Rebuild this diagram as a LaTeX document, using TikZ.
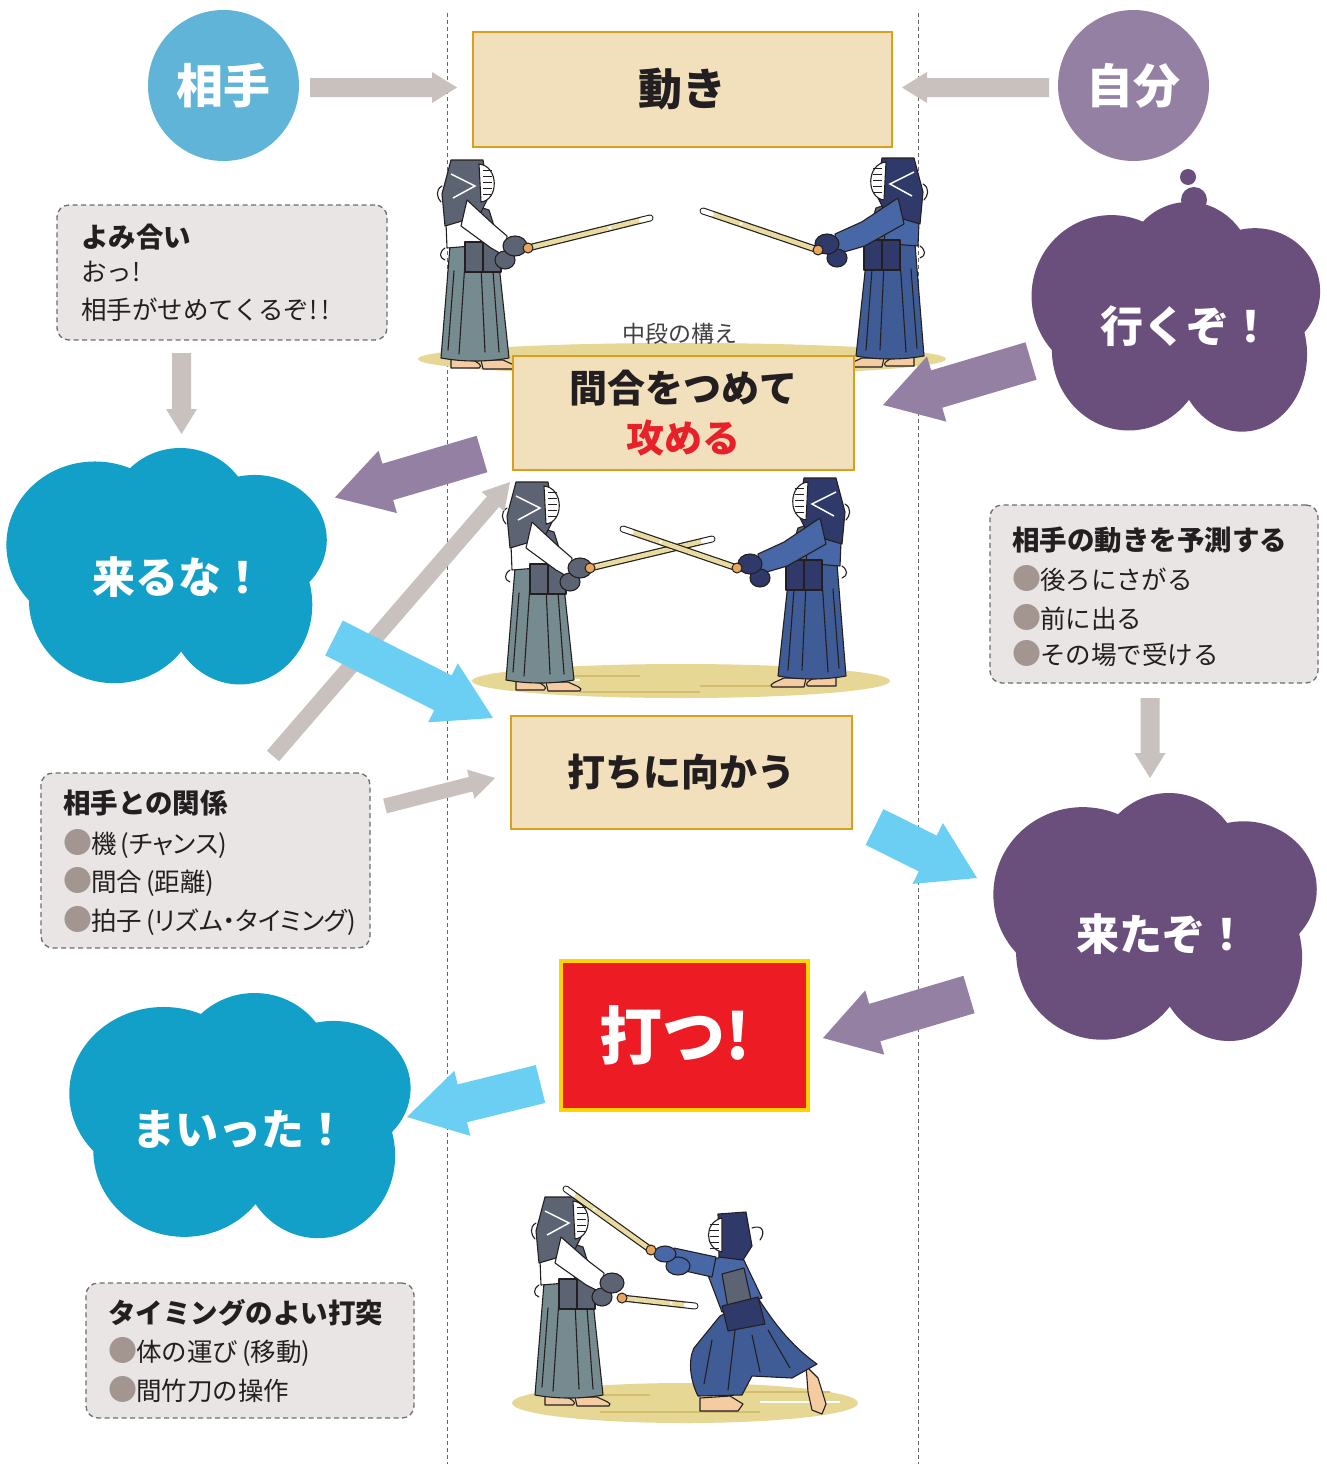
\documentclass[tikz,border=0pt]{standalone}
\usepackage{fontspec}
\setmainfont{Noto Sans CJK JP}
\newfontfamily\proptext{Noto Sans CJK JP}[RawFeature=+palt]
\usetikzlibrary{calc}

\definecolor{aiteblue}{HTML}{5FB4D8}
\definecolor{jibunpurple}{HTML}{9480A3}
\definecolor{cloudblue}{HTML}{12A0C9}
\definecolor{cloudpurple}{HTML}{6A4E7C}
\definecolor{arrowgray}{HTML}{C8C1BE}
\definecolor{arrowpurple}{HTML}{9480A3}
\definecolor{arrowcyan}{HTML}{6BCFF4}
\definecolor{boxfill}{HTML}{F2E0BC}
\definecolor{boxline}{HTML}{D9A01E}
\definecolor{notefill}{HTML}{E8E5E4}
\definecolor{noteline}{HTML}{6E6E6E}
\definecolor{dotgray}{HTML}{A39691}
\definecolor{strikered}{HTML}{ED1C24}
\definecolor{strikeline}{HTML}{FFD200}
\definecolor{textred}{HTML}{E8202A}
\definecolor{ink}{HTML}{231F20}
\definecolor{ground}{HTML}{E6D794}
\definecolor{groundline}{HTML}{D2BE6C}
\definecolor{skin}{HTML}{F5CBA2}
\definecolor{shinaicol}{HTML}{E9DBA0}
\definecolor{tsubacol}{HTML}{E8A65A}
\definecolor{hakamagray}{HTML}{768B8F}
\definecolor{armorgray}{HTML}{5C6373}
\definecolor{hakamablue}{HTML}{3F5C96}
\definecolor{giblue}{HTML}{4767A6}
\definecolor{armornavy}{HTML}{2F3A6B}

% bullet used in the note boxes
\newcommand\dotmark{{\color{dotgray}\fontsize{29}{28}\selectfont●}\hspace{-1pt}}
% bracketed remark with proportional kana
\newcommand\remark[1]{\hspace{4pt}({\proptext #1})}

% block arrow: colour, start, end, half shaft width, half head width, head length
\newcommand\blockarrow[6]{%
  \coordinate (bahead) at ($(#3)!#6!(#2)$);
  \fill[#1] ($(#2)!#4!90:(#3)$) -- ($(bahead)!#4!90:(#3)$) -- ($(bahead)!#5!90:(#3)$)
    -- (#3) -- ($(bahead)!#5!-90:(#3)$) -- ($(bahead)!#4!-90:(#3)$) -- ($(#2)!#4!-90:(#3)$) -- cycle;}

% thought cloud: colour, centre x, centre y, half width, half height
\newcommand\cloudshape[5]{%
  \foreach \ox/\oy/\rx/\ry in {-0.46/-0.21/0.55/0.68, 0.07/-0.41/0.45/0.59, 0.53/-0.25/0.45/0.53,
      -0.34/0.24/0.53/0.68, 0.44/0.28/0.45/0.65}{
    \pgfmathsetmacro\cxa{#2+(\ox)*#4}
    \pgfmathsetmacro\cya{#3+(\oy)*#5}
    \pgfmathsetmacro\rxa{(\rx)*#4}
    \pgfmathsetmacro\rya{(\ry)*#5}
    \fill[#1] (\cxa,\cya) ellipse [x radius=\rxa, y radius=\rya];
  }
  \pgfmathsetmacro\cxa{#2-0.7*#4}
  \pgfmathsetmacro\cya{#3-0.45*#5}
  \pgfmathsetmacro\rxa{#2+0.8*#4}
  \pgfmathsetmacro\rya{#3+0.6*#5}
  \fill[#1] (\cxa,\cya) rectangle (\rxa,\rya);}

% bamboo sword from the guard to the tip
\newcommand\shinaistick[2]{%
  \draw[ink, line width=7pt, line cap=round] (#1) -- (#2);
  \draw[shinaicol, line width=4.6pt, line cap=round] (#1) -- (#2);
  \draw[white, line width=4.6pt, line cap=round] ($(#2)!9pt!(#1)$) -- (#2);
  \draw[white, line width=2.5pt] ($(#2)!0.32!(#1)$) -- ($(#2)!0.34!(#1)$);
  \filldraw[fill=tsubacol, draw=ink, line width=1pt] (#1) circle [radius=5];}

\tikzset{
  inkline/.style={draw=ink, line width=1.1pt, line join=round, line cap=round},
  lanedash/.style={draw=black!60, line width=1pt, dash pattern=on 4pt off 3pt},
  rolecircle/.style={circle, minimum size=151pt, inner sep=0pt, text=white,
    font=\bfseries\fontsize{47}{54}\selectfont},
  stagebox/.style={rectangle, draw=boxline, line width=2.5pt, fill=boxfill, inner sep=0pt,
    text=ink, align=center, font=\bfseries\fontsize{38}{50}\selectfont},
  notebox/.style={rectangle, draw=noteline, fill=notefill, line width=1.3pt,
    dash pattern=on 5pt off 3.5pt, rounded corners=12pt, inner sep=0pt},
  notehead/.style={anchor=west, inner sep=0pt, text=ink, font=\bfseries\fontsize{27.5}{30}\selectfont},
  noteitem/.style={anchor=west, inner sep=0pt, text=ink, font=\fontsize{25.5}{28}\selectfont},
  cloudtext/.style={inner sep=0pt, text=white, font=\bfseries\fontsize{43}{50}\selectfont},
  % standing kendo player facing right; #1 hakama, #2 keikogi, #3 armour, #4 reach
  pics/kenshi/.style n args={4}{code={
    \filldraw[fill=skin, inkline] (-24,-7) -- (-4,-7) .. controls (4,-3) and (8,0) .. (4,2) -- (-24,2) -- cycle;
    \filldraw[fill=skin, inkline] (6,-6) -- (28,-6) .. controls (36,-2) and (44,0) .. (40,3) -- (8,3) -- cycle;
    \filldraw[fill=#1, inkline] (-25,-120) -- (22,-120) -- (34,-8) .. controls (12,-4) and (-12,-4) .. (-34,-8) -- cycle;
    \draw[inkline] (-10,-104) -- (-16,-12) (6,-100) -- (10,-14) (-21,-95) -- (-27,-16) (18,-95) -- (24,-14);
    \filldraw[fill=#2, inkline] (-30,-168) -- (4,-168) -- (22,-122) -- (-28,-118) -- cycle;
    \filldraw[fill=armorgray, inkline] (2,-160) -- (14,-156) -- (24,-124) -- (6,-122) -- cycle;
    \filldraw[fill=#3, inkline] (-10,-124) -- (26,-124) -- (26,-94) -- (-10,-94) -- cycle;
    \draw[inkline] (8,-124) -- (8,-94);
    \draw[inkline] (-30,-118) .. controls (-36,-114) and (-36,-108) .. (-30,-106);
    \filldraw[fill=#3, inkline] (-24,-206) -- (8,-206) -- (14,-170) -- (4,-150) -- (-30,-140) -- (-33,-172) -- cycle;
    \filldraw[fill=white, inkline] (4,-202) .. controls (24,-200) and (24,-166) .. (6,-164) -- cycle;
    \foreach \g in {-196,-190,...,-172} \draw[ink, line width=0.8pt] (8,\g) -- (17,\g);
    \draw[white, line width=1.5pt] (-24,-192) -- (0,-180) -- (-22,-168);
    \draw[inkline] (-33,-180) .. controls (-40,-176) and (-38,-168) .. (-34,-164);
    \filldraw[fill=#2, inkline] (-8,-166) -- ({#4*0.45},-142) -- ({#4-8},-130) -- ({#4-10},-110)
      -- ({#4*0.4},-118) -- (-14,-140) -- cycle;
    \filldraw[fill=#3, inkline] ({#4-10},-106) ellipse [x radius=10, y radius=9];
    \filldraw[fill=#3, inkline] (#4,-120) ellipse [x radius=12, y radius=10];
  }},
}

\begin{document}
\begin{tikzpicture}[x=1pt, y=-1pt]
\useasboundingbox (0,0) rectangle (1327,1464);
\fill[white] (0,0) rectangle (1327,1464);

% lane dividers
\draw[lanedash] (447,13) -- (447,1464);
\draw[lanedash] (918,13) -- (918,1464);

% dojo floors
\fill[ground] (682,359) ellipse [x radius=264, y radius=16];
\fill[ground] (681,681) ellipse [x radius=209, y radius=17];
\fill[ground] (685,1403) ellipse [x radius=173, y radius=20];
\draw[groundline, line width=1.2pt] (540,676) -- (640,676) (700,686) -- (830,686) (580,692) -- (700,692)
  (560,1395) -- (650,1395) (600,1412) -- (760,1412) (720,1392) -- (830,1392);
\draw[white, line width=1.2pt] (760,1402) -- (840,1402) (520,680) -- (580,680);

% scene 1: chudan no kamae
\pic at (475,366) {kenshi={hakamagray}{white}{armorgray}{40}};
\pic[xscale=-1] at (890,364) {kenshi={hakamablue}{giblue}{armornavy}{63}};
\shinaistick{528,248}{650,218}
\shinaistick{818,250}{703,211}

% scene 2: closing the distance
\pic at (540,688) {kenshi={hakamagray}{white}{armorgray}{40}};
\pic[xscale=-1] at (812,684) {kenshi={hakamablue}{giblue}{armornavy}{62}};
\shinaistick{590,568}{712,539}
\shinaistick{737,568}{623,529}

% scene 3: the strike
\pic at (569,1403) {kenshi={hakamagray}{white}{armorgray}{43}};
\shinaistick{622,1298}{695,1306}
\filldraw[fill=skin, inkline] (806,1366) -- (818,1378) -- (826,1404) -- (822,1414) -- (812,1410) -- (808,1392) -- cycle;
\filldraw[fill=skin, inkline] (700,1398) -- (730,1396) -- (743,1404) -- (738,1411) -- (700,1411) -- cycle;
\filldraw[fill=hakamablue, inkline] (720,1316) -- (758,1298) .. controls (772,1320) and (790,1345) .. (817,1364)
  -- (792,1378) -- (752,1376) -- (742,1395) -- (698,1396) .. controls (690,1380) and (688,1360) .. (694,1348) -- cycle;
\draw[inkline] (712,1340) -- (704,1384) (735,1330) -- (728,1390) (768,1330) -- (790,1368) (752,1335) -- (760,1372);
\filldraw[fill=giblue, inkline] (703,1262) -- (740,1252) -- (762,1298) -- (722,1312) -- cycle;
\filldraw[fill=armorgray, inkline] (722,1274) -- (744,1268) -- (752,1304) -- (728,1308) -- cycle;
\filldraw[fill=armornavy, inkline] (722,1306) -- (758,1297) -- (765,1324) -- (728,1331) -- cycle;
\filldraw[fill=armornavy, inkline] (718,1214) -- (746,1212) -- (752,1246) -- (743,1260) -- (719,1257) -- cycle;
\filldraw[fill=white, inkline] (722,1218) .. controls (704,1222) and (704,1248) .. (722,1252) -- cycle;
\foreach \g in {1224,1230,...,1248} \draw[ink, line width=0.8pt] (710,\g) -- (719,\g);
\draw[inkline] (752,1228) .. controls (762,1224) and (766,1232) .. (760,1240);
\filldraw[fill=giblue, inkline] (716,1257) -- (674,1248) -- (672,1268) -- (712,1277) -- cycle;
\filldraw[fill=giblue, inkline] (678,1266) ellipse [x radius=12, y radius=9];
\filldraw[fill=giblue, inkline] (665,1254) ellipse [x radius=11, y radius=8];
\shinaistick{651,1250}{566,1189}

% thought bubbles
\cloudshape{cloudblue}{169}{570.5}{161}{122.5}
\cloudshape{cloudpurple}{1178}{321}{145}{119}
\cloudshape{cloudpurple}{1157.5}{921.5}{162.5}{128.5}
\cloudshape{cloudblue}{242.5}{1120}{171.5}{127}
\fill[cloudpurple] (1188,177) circle [radius=8];
\fill[cloudpurple] (1194,200) circle [radius=13];

\node[cloudtext] (kuruna) at (178,577) {来るな！};
\node[cloudtext] (ikuzo) at (1186,326) {行くぞ！};
\node[cloudtext] (kitazo) at (1162,934) {来たぞ！};
\node[cloudtext] (maitta) at (240,1129) {まいった！};

% who moves
\node[rolecircle, fill=aiteblue] (aite) at (223.5,85.5) {相手};
\node[rolecircle, fill=jibunpurple] (jibun) at (1133.5,85.5) {自分};

% arrow end points
\coordinate (a1s) at (310,87.5);   \coordinate (a1e) at (457,87.5);
\coordinate (a2s) at (1049,87.5);  \coordinate (a2e) at (902,87.5);
\coordinate (a3s) at (181.5,353);  \coordinate (a3e) at (181.5,434);
\coordinate (a4s) at (1031,361);   \coordinate (a4e) at (883,405);
\coordinate (a5s) at (482,454);    \coordinate (a5e) at (335,497.5);
\coordinate (a6s) at (273,756);    \coordinate (a6e) at (510,482);
\coordinate (a7s) at (334,638);    \coordinate (a7e) at (493,718);
\coordinate (a8s) at (385,806);    \coordinate (a8e) at (495,778);
\coordinate (a9s) at (1150,698);   \coordinate (a9e) at (1150,778);
\coordinate (a10s) at (874.5,827); \coordinate (a10e) at (977,878);
\coordinate (a11s) at (969,994.5); \coordinate (a11e) at (823,1038);
\coordinate (a12s) at (540.5,1084);\coordinate (a12e) at (407,1117);

\blockarrow{arrowgray}{a1s}{a1e}{9.5pt}{15.5pt}{25pt}
\blockarrow{arrowgray}{a2s}{a2e}{9.5pt}{15.5pt}{25pt}
\blockarrow{arrowgray}{a3s}{a3e}{9.5pt}{15.5pt}{25pt}
\blockarrow{arrowpurple}{a4s}{a4e}{19.5pt}{34pt}{56pt}
\blockarrow{arrowpurple}{a5s}{a5e}{19pt}{32.5pt}{55pt}
\blockarrow{arrowgray}{a6s}{a6e}{8pt}{15pt}{26pt}
\blockarrow{arrowcyan}{a7s}{a7e}{19.5pt}{33pt}{56pt}
\blockarrow{arrowgray}{a8s}{a8e}{7.5pt}{15pt}{25pt}
\blockarrow{arrowgray}{a9s}{a9e}{9.5pt}{15.5pt}{25pt}
\blockarrow{arrowcyan}{a10s}{a10e}{20pt}{34pt}{55pt}
\blockarrow{arrowpurple}{a11s}{a11e}{19.5pt}{33.5pt}{54pt}
\blockarrow{arrowcyan}{a12s}{a12e}{19.5pt}{33.5pt}{57pt}

% stages in the middle lane
\node[stagebox, minimum width=419pt, minimum height=115pt, font=\bfseries\fontsize{44}{50}\selectfont]
  (ugoki) at (682.5,89.5) {動き};
\node[inner sep=0pt, text=ink!85, font=\fontsize{23}{26}\selectfont] (kamae) at (680,334) {中段の構え};
\node[stagebox, minimum width=341pt, minimum height=114pt] (maai) at (683.5,413)
  {間合をつめて\\{\color{textred}攻める}};
\node[stagebox, minimum width=341pt, minimum height=113pt] (mukau) at (681.5,772.5) {打ちに向かう};
\node[rectangle, draw=strikeline, line width=4pt, fill=strikered, minimum width=247pt, minimum height=149pt,
  inner sep=0pt] (utsu) at (684.5,1035.5) {};
\node[inner sep=0pt, text=white, font=\bfseries\fontsize{63}{66}\selectfont] (utsulabel) at (675,1035) {打つ!};

% notes
\node[notebox, minimum width=330pt, minimum height=135pt] (yomi) at (222,272.5) {};
\node[notehead] (yomit) at (81,237) {よみ合い};
\node[noteitem] (yomi1) at (81,272) {おっ!};
\node[noteitem] (yomi2) at (81,310) {相手がせめてくるぞ!\,!};

\node[notebox, minimum width=328pt, minimum height=178pt] (yosoku) at (1154,594) {};
\node[notehead] (yosokut) at (1012,540) {相手の動きを予測する};
\node[noteitem] (yosoku1) at (1012,579) {\dotmark 後ろにさがる};
\node[noteitem] (yosoku2) at (1012,617) {\dotmark 前に出る};
\node[noteitem] (yosoku3) at (1012,654) {\dotmark その場で受ける};

\node[notebox, minimum width=329pt, minimum height=175pt] (kankei) at (205.5,860.5) {};
\node[notehead] (kankeit) at (63,803) {相手との関係};
\node[noteitem] (kankei1) at (63,844) {\dotmark 機\remark{チャンス}};
\node[noteitem] (kankei2) at (63,882) {\dotmark 間合\remark{距離}};
\node[noteitem] (kankei3) at (63,921) {\dotmark 拍子\remark{リズム・タイミング}};

\node[notebox, minimum width=328pt, minimum height=135pt] (dattotsu) at (250,1350.5) {};
\node[notehead] (dattotsut) at (108,1313) {タイミングのよい打突};
\node[noteitem] (dattotsu1) at (108,1352) {\dotmark 体の運び\remark{移動}};
\node[noteitem] (dattotsu2) at (108,1390) {\dotmark 間竹刀の操作};
\end{tikzpicture}
\end{document}
